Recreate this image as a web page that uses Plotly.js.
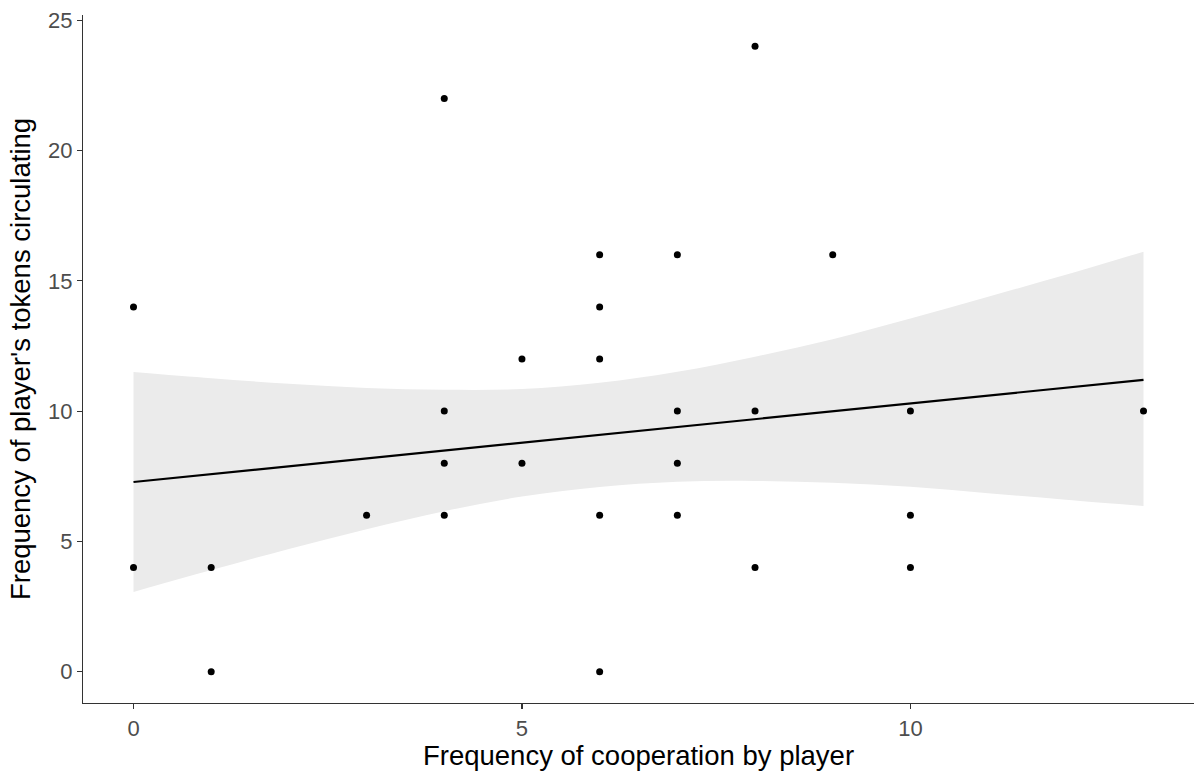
<!DOCTYPE html>
<html>
<head>
<meta charset="utf-8">
<script src="https://cdn.plot.ly/plotly-3.0.1.min.js"></script>
<style>
  html, body { margin: 0; padding: 0; background: #fff; }
  #chart { width: 1196px; height: 771px; }
</style>
</head>
<body>
<div id="chart"></div>
<script>
// Observed points (cooperation frequency, tokens circulating)
const cooperation = [0, 0, 1, 1, 3, 4, 4, 4, 4, 5, 5, 6, 6, 6, 6, 6, 7, 7, 7, 7, 8, 8, 8, 9, 10, 10, 10, 13];
const tokens      = [14, 4, 4, 0, 6, 22, 10, 8, 6, 12, 8, 16, 14, 12, 6, 0, 16, 10, 8, 6, 24, 10, 4, 16, 10, 6, 4, 10];

// Fitted line and confidence band
const fitX     = [0, 1, 2, 3, 4, 5, 6, 7, 8, 9, 10, 11, 12, 13];
const fitY     = [7.28, 7.58, 7.88, 8.18, 8.49, 8.79, 9.09, 9.39, 9.69, 9.99, 10.30, 10.60, 10.90, 11.20];
const bandHigh = [11.50, 11.26, 11.05, 10.89, 10.82, 10.85, 11.09, 11.51, 12.09, 12.76, 13.55, 14.39, 15.23, 16.12];
const bandLow  = [3.06, 3.90, 4.71, 5.47, 6.16, 6.72, 7.09, 7.29, 7.32, 7.25, 7.10, 6.85, 6.60, 6.36];

const xTicks = [0, 5, 10];
const yTicks = [0, 5, 10, 15, 20, 25];

const traces = [
  { x: fitX, y: bandLow, mode: 'lines', line: { width: 0, shape: 'spline' },
    hoverinfo: 'skip', showlegend: false },
  { x: fitX, y: bandHigh, mode: 'lines', line: { width: 0, shape: 'spline' },
    fill: 'tonexty', fillcolor: 'rgb(235,235,235)', hoverinfo: 'skip', showlegend: false },
  { x: cooperation, y: tokens, mode: 'markers', type: 'scatter',
    marker: { color: '#000', size: 7 }, showlegend: false },
  { x: fitX, y: fitY, mode: 'lines', line: { color: '#000', width: 2.2 }, showlegend: false }
];

const axisCommon = {
  showgrid: false, zeroline: false, showline: true, linecolor: '#333', linewidth: 1.2,
  ticks: 'outside', ticklen: 5, tickcolor: '#333', tickwidth: 1.2,
  tickfont: { family: 'Liberation Sans, Arial, sans-serif', size: 22, color: '#4D4D4D' }
};

const layout = {
  width: 1196, height: 771,
  paper_bgcolor: '#fff', plot_bgcolor: '#fff',
  margin: { l: 83, r: 2, t: 15, b: 68 },
  xaxis: Object.assign({}, axisCommon, {
    range: [-0.65, 13.65], tickvals: xTicks, ticktext: xTicks.map(String),
    title: { text: 'Frequency of cooperation by player', standoff: 3,
      font: { family: 'Liberation Sans, Arial, sans-serif', size: 27.5, color: '#000' } }
  }),
  yaxis: Object.assign({}, axisCommon, {
    range: [-1.2, 25.2], tickvals: yTicks, ticktext: yTicks.map(String),
    title: { text: "Frequency of player's tokens circulating", standoff: 9,
      font: { family: 'Liberation Sans, Arial, sans-serif', size: 27.5, color: '#000' } }
  })
};

Plotly.newPlot('chart', traces, layout, { displayModeBar: false, staticPlot: true });
</script>
</body>
</html>
